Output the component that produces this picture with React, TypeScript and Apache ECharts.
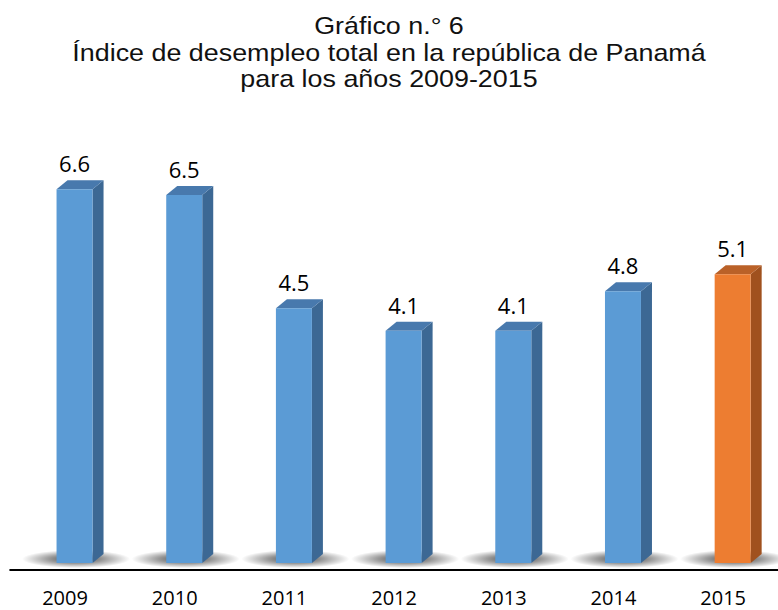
import React, { useEffect, useRef } from "react";
import * as echarts from "echarts";

const titleLines = [
  "Gráfico n.° 6",
  "Índice de desempleo total en la república de Panamá",
  "para los años 2009-2015",
];
const years = ["2009", "2010", "2011", "2012", "2013", "2014", "2015"];
const rates = [6.6, 6.5, 4.5, 4.1, 4.1, 4.8, 5.1];
const highlightYear = "2015";

const BLUE = { front: "#5B9BD5", top: "#4879AD", side: "#3C6894" };
const ORANGE = { front: "#ED7D31", top: "#BA6128", side: "#A0511E" };

export default function App() {
  const ref = useRef<HTMLDivElement>(null);
  useEffect(() => {
    document.body.style.margin = "0";
    const chart = echarts.init(ref.current!, null, { renderer: "svg" });
    const DX = 11;
    const DY = 9;
    const option: any = {
      animation: false,
      backgroundColor: "#fff",
      graphic: titleLines.map((t, k) => ({
        type: "text",
        x: 389,
        y: [26, 53, 79][k],
        scaleX: 1.12,
        style: {
          text: t,
          fontFamily: "Liberation Sans",
          fontWeight: "normal",
          fontSize: 24,
          fill: "#111",
          textAlign: "center",
          textVerticalAlign: "middle",
        },
      })),
      grid: { left: 10.2, width: 774.7, top: 110, bottom: 47 },
      xAxis: {
        type: "category",
        data: years,
        offset: 7,
        axisLine: { onZero: false, lineStyle: { color: "#000", width: 2 } },
        axisTick: { show: false },
        axisLabel: {
          fontFamily: "Open Sans",
          fontSize: 20,
          color: "#000",
          margin: 27,
          verticalAlign: "middle",
          lineHeight: 20,
        },
      },
      yAxis: { type: "value", min: 0, max: 8, show: false },
      series: [
        {
          type: "custom",
          data: rates.map((v, i) => [i, v]),
          encode: { x: 0, y: 1 },
          renderItem: (params: any, api: any) => {
            const i = api.value(0);
            const v = api.value(1);
            const top = api.coord([i, v]);
            const base = api.coord([i, 0]);
            const c = top[0];
            const L = c - 8.5;
            const R = c + 27.5;
            const T = top[1];
            const B = base[1];
            const col = years[i] === highlightYear ? ORANGE : BLUE;
            return {
              type: "group",
              children: [
                {
                  type: "ellipse",
                  shape: { cx: c + 11, cy: B - 4, rx: 54, ry: 9 },
                  style: {
                    fill: {
                      type: "radial",
                      x: 0.5,
                      y: 0.5,
                      r: 0.5,
                      colorStops: [
                        { offset: 0, color: "rgba(0,0,0,0.75)" },
                        { offset: 0.5, color: "rgba(0,0,0,0.4)" },
                        { offset: 1, color: "rgba(0,0,0,0)" },
                      ],
                    },
                  },
                },
                {
                  type: "polygon",
                  shape: { points: [[R, T], [R + DX, T - DY], [R + DX, B - DY], [R, B]] },
                  style: { fill: col.side },
                },
                {
                  type: "polygon",
                  shape: { points: [[L, T], [R, T], [R + DX, T - DY], [L + DX, T - DY]] },
                  style: { fill: col.top },
                },
                {
                  type: "rect",
                  shape: { x: L, y: T, width: R - L, height: B - T },
                  style: { fill: col.front },
                },
                {
                  type: "text",
                  x: (L + R) / 2,
                  y: T - DY - 17,
                  style: {
                    text: String(v),
                    fontFamily: "Open Sans",
                    fontSize: 22,
                    fill: "#000",
                    textAlign: "center",
                    textVerticalAlign: "middle",
                  },
                },
              ],
            };
          },
        },
      ],
    };
    chart.setOption(option);
    return () => chart.dispose();
  }, []);
  return (
    <div
      ref={ref}
      style={{ position: "absolute", left: 0, top: 0, width: 778, height: 610 }}
    />
  );
}
